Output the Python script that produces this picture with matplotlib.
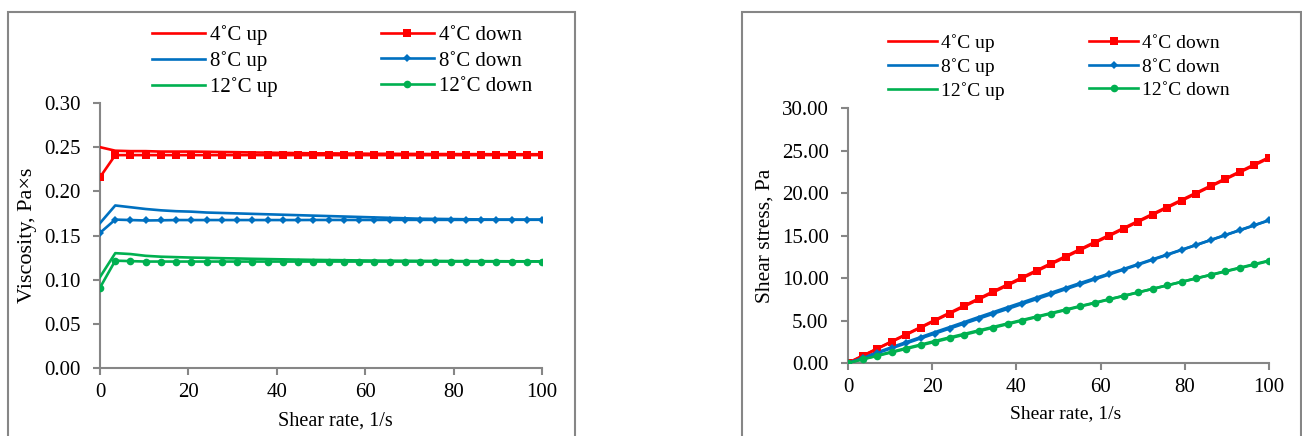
import matplotlib
matplotlib.use("Agg")
import matplotlib.pyplot as plt
from matplotlib.patches import Rectangle

plt.rcParams['font.family'] = ['Liberation Serif', 'DejaVu Serif']

shear_rate = [0, 3.45, 6.90, 10.34, 13.79, 17.24, 20.69, 24.14, 27.59, 31.03,
              34.48, 37.93, 41.38, 44.83, 48.28, 51.72, 55.17, 58.62, 62.07, 65.52,
              68.97, 72.41, 75.86, 79.31, 82.76, 86.21, 89.66, 93.10, 96.55, 100]

labels = ["4˚C up", "8˚C up", "12˚C up", "4˚C down", "8˚C down", "12˚C down"]

visc_4_up = [0.250, 0.246, 0.2455, 0.2455, 0.245, 0.245, 0.245, 0.2448, 0.2445, 0.2443,
             0.244, 0.2438, 0.2435, 0.2433, 0.243, 0.243, 0.2428, 0.2427, 0.2425, 0.2425,
             0.2424, 0.2423, 0.2422, 0.2422, 0.2421, 0.2421, 0.242, 0.242, 0.242, 0.242]
visc_4_down = [0.216, 0.241, 0.241, 0.241, 0.241, 0.241, 0.241, 0.241, 0.241, 0.241,
               0.241, 0.241, 0.241, 0.241, 0.241, 0.241, 0.241, 0.241, 0.241, 0.241,
               0.241, 0.241, 0.241, 0.241, 0.241, 0.241, 0.241, 0.241, 0.241, 0.241]
visc_8_up = [0.164, 0.184, 0.182, 0.180, 0.1785, 0.1775, 0.177, 0.176, 0.1755, 0.175,
             0.1745, 0.174, 0.1735, 0.173, 0.1725, 0.172, 0.1715, 0.171, 0.1705, 0.170,
             0.1695, 0.169, 0.1688, 0.1686, 0.1684, 0.1682, 0.168, 0.168, 0.168, 0.168]
visc_8_down = [0.153, 0.168, 0.1675, 0.167, 0.1672, 0.1675, 0.1675, 0.1675, 0.1675, 0.1675,
               0.1675, 0.1675, 0.1675, 0.1675, 0.1676, 0.1676, 0.1676, 0.1676, 0.1676, 0.1677,
               0.1677, 0.1677, 0.1677, 0.1677, 0.1677, 0.1678, 0.1678, 0.1678, 0.1678, 0.1678]
visc_12_up = [0.103, 0.130, 0.129, 0.127, 0.126, 0.1255, 0.125, 0.1247, 0.1243, 0.124,
              0.1236, 0.1233, 0.123, 0.1227, 0.1224, 0.1222, 0.122, 0.1218, 0.1216, 0.1215,
              0.1214, 0.1213, 0.1212, 0.1211, 0.121, 0.121, 0.1209, 0.1208, 0.1208, 0.1207]
visc_12_down = [0.091, 0.1215, 0.121, 0.1205, 0.1205, 0.1205, 0.1205, 0.1205, 0.1205, 0.1205,
                0.1205, 0.1205, 0.1205, 0.1205, 0.1205, 0.1205, 0.1205, 0.1205, 0.1205, 0.1205,
                0.1205, 0.1205, 0.1205, 0.1205, 0.1205, 0.1205, 0.1205, 0.1205, 0.1205, 0.1205]

stress_4_up = [0, 0.85, 1.69, 2.54, 3.38, 4.22, 5.07, 5.91, 6.75, 7.58,
               8.42, 9.25, 10.08, 10.91, 11.74, 12.57, 13.40, 14.23, 15.06, 15.89,
               16.72, 17.55, 18.38, 19.21, 20.04, 20.87, 21.70, 22.53, 23.37, 24.20]
stress_4_down = [0, 0.83, 1.66, 2.49, 3.32, 4.15, 4.99, 5.82, 6.65, 7.48,
                 8.31, 9.14, 9.97, 10.80, 11.64, 12.46, 13.30, 14.13, 14.96, 15.79,
                 16.62, 17.45, 18.28, 19.11, 19.94, 20.78, 21.61, 22.44, 23.27, 24.10]
stress_8_up = [0, 0.63, 1.25, 1.85, 2.45, 3.04, 3.64, 4.22, 4.81, 5.40,
               5.98, 6.56, 7.13, 7.71, 8.28, 8.84, 9.41, 9.97, 10.52, 11.07,
               11.64, 12.21, 12.77, 13.34, 13.90, 14.48, 15.06, 15.64, 16.22, 16.80]
stress_8_down = [0, 0.58, 1.15, 1.73, 2.31, 2.89, 3.47, 4.05, 4.63, 5.21,
                 5.79, 6.36, 6.94, 7.52, 8.10, 8.68, 9.26, 9.84, 10.42, 10.99,
                 11.57, 12.15, 12.73, 13.31, 13.89, 14.47, 15.05, 15.62, 16.20, 16.78]
stress_12_up = [0, 0.45, 0.88, 1.31, 1.74, 2.16, 2.59, 3.01, 3.42, 3.83,
                4.24, 4.65, 5.06, 5.47, 5.88, 6.29, 6.70, 7.10, 7.51, 7.91,
                8.32, 8.73, 9.14, 9.55, 9.96, 10.36, 10.77, 11.17, 11.58, 12.00]
stress_12_down = [0, 0.42, 0.83, 1.25, 1.66, 2.08, 2.49, 2.91, 3.32, 3.74,
                  4.15, 4.57, 4.99, 5.40, 5.82, 6.23, 6.65, 7.06, 7.48, 7.90,
                  8.31, 8.73, 9.14, 9.56, 9.97, 10.39, 10.80, 11.22, 11.63, 12.05]

visc_ticks = [0.00, 0.05, 0.10, 0.15, 0.20, 0.25, 0.30]
stress_ticks = [0, 5, 10, 15, 20, 25, 30]
x_ticks = [0, 20, 40, 60, 80, 100]

RED, BLUE, GREEN = "#FF0000", "#0070C0", "#00B050"
GRAY = "#868686"
TICK_FS = 15

W, H = 1302, 436
fig = plt.figure(figsize=(W / 100, H / 100), dpi=100)

# panel frames
for (x0, x1) in [(8, 575), (742, 1301)]:
    fig.patches.append(Rectangle((x0 / W, -0.2), (x1 - x0) / W, 1.2 - 12 / H,
                                 transform=fig.transFigure, fill=False,
                                 edgecolor=GRAY, linewidth=1.5, clip_on=False))

ax1 = fig.add_axes([100 / W, 1 - 368 / H, 442 / W, 265 / H])
ax2 = fig.add_axes([848 / W, 1 - 363 / H, 421 / W, 255 / H])


def draw(ax, ups, downs, xlabel_fs, xlabel_x):
    lines = []
    for ys, c in zip(ups, [RED, BLUE, GREEN]):
        l, = ax.plot(shear_rate, ys, color=c, lw=1.9, zorder=3)
        lines.append(l)
    for ys, c, m, ms in zip(downs, [RED, BLUE, GREEN], ['s', 'D', 'o'], [5.5, 3.8, 5.5]):
        l, = ax.plot(shear_rate, ys, color=c, lw=1.9, marker=m, markersize=ms,
                     markeredgewidth=0, zorder=4)
        lines.append(l)
    for s in ['top', 'right']:
        ax.spines[s].set_visible(False)
    for s in ['left', 'bottom']:
        ax.spines[s].set_color(GRAY)
        ax.spines[s].set_linewidth(1.5)
    ax.tick_params(axis='both', colors=GRAY, labelcolor='black', labelsize=TICK_FS,
                   length=5, width=1.5, direction='out')
    ax.tick_params(axis='y', pad=9)
    ax.tick_params(axis='x', pad=6)
    ax.set_xlim(0, 100)
    ax.set_xticks(x_ticks)
    ax.set_xlabel("Shear rate, 1/s", fontsize=xlabel_fs, va='center')
    ax.xaxis.set_label_coords(xlabel_x, -0.2)
    return lines


lines1 = draw(ax1, [visc_4_up, visc_8_up, visc_12_up],
              [visc_4_down, visc_8_down, visc_12_down], 14.5, 0.532)
ax1.set_ylim(0, 0.30)
ax1.set_yticks(visc_ticks)
ax1.set_yticklabels([f"{v:.2f}" for v in visc_ticks])
ax1.set_ylabel("Viscosity, Pa×s", fontsize=16, labelpad=5)

lines2 = draw(ax2, [stress_4_up, stress_8_up, stress_12_up],
              [stress_4_down, stress_8_down, stress_12_down], 14, 0.518)
ax2.set_ylim(0, 30)
ax2.set_yticks(stress_ticks)
ax2.set_yticklabels([f"{v:.2f}" for v in stress_ticks])
ax2.set_ylabel("Shear stress, Pa", fontsize=15.5, labelpad=5)

legend_specs = [
    (lines1, (152, 25), 15, 2.55, 0.24, 4.95, 0.29),
    (lines2, (888, 34), 14, 2.52, 0.2, 4.37, 0.31),
]
for lines, (lx, ly), fs, hl, htp, cs, ls in legend_specs:
    fig.legend(lines, labels, loc='upper left', bbox_to_anchor=(lx / W, 1 - ly / H),
               ncol=2, frameon=False, fontsize=fs, borderaxespad=0, borderpad=0,
               handlelength=hl, handletextpad=htp, columnspacing=cs,
               labelspacing=ls)

fig.savefig("out.png", dpi=100)
